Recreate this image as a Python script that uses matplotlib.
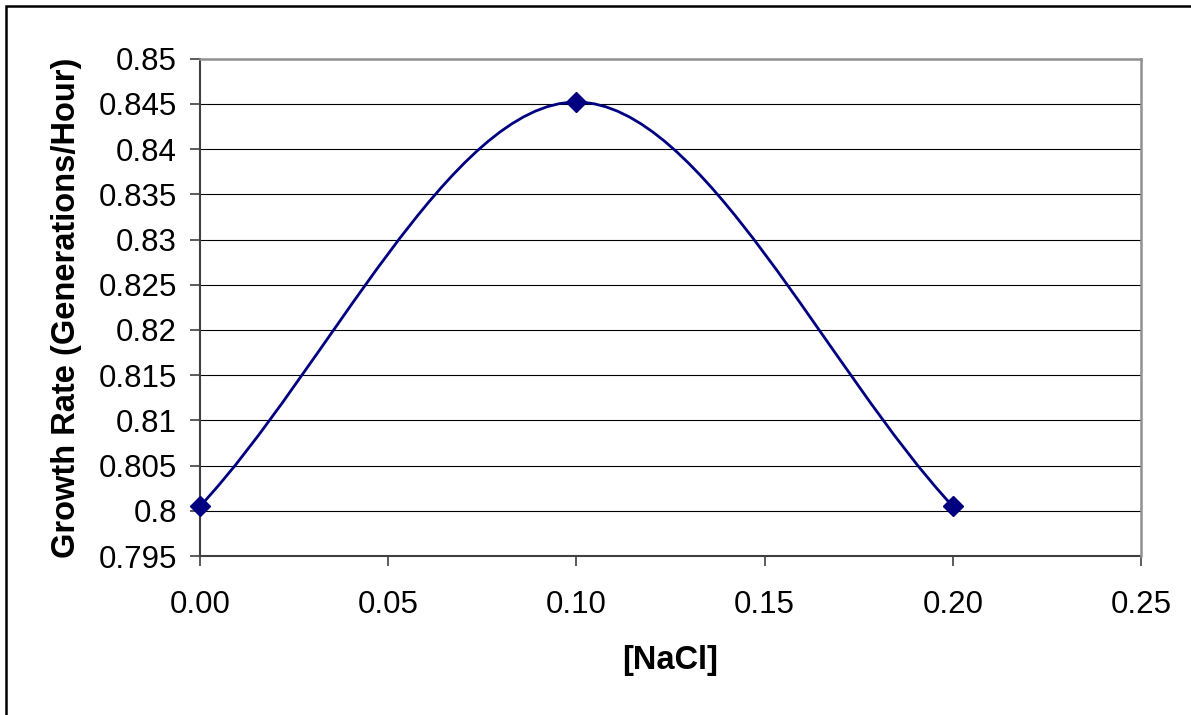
import numpy as np
import matplotlib.pyplot as plt
from matplotlib.path import Path
from matplotlib.patches import PathPatch, Rectangle

plt.rcParams['font.family'] = ['Liberation Sans', 'DejaVu Sans']

# data
nacl = [0.00, 0.10, 0.20]
growth_rate = [0.8005, 0.8452, 0.8005]
xticks = [0.00, 0.05, 0.10, 0.15, 0.20, 0.25]
yticks = [0.795, 0.8, 0.805, 0.81, 0.815, 0.82, 0.825, 0.83, 0.835, 0.84, 0.845, 0.85]

navy = '#000080'

fig = plt.figure(figsize=(11.91, 7.15), dpi=100)
ax = fig.add_axes([200/1191, 1 - 556/715, (1141 - 200)/1191, (556 - 58.7)/715])

# smoothed line like excel: cubic bezier segments between the points
pts = np.column_stack([nacl, growth_rate])
n = len(pts)
verts = [pts[0]]
codes = [Path.MOVETO]
for i in range(n - 1):
    p0 = pts[i]
    p1 = pts[i + 1]
    # tangents: end points use the segment itself, inner points use neighbours
    t0 = (p1 - p0) / 3.0 if i == 0 else (p1 - pts[i - 1]) / 6.0
    t1 = (p1 - p0) / 3.0 if i + 1 == n - 1 else (pts[i + 2] - p0) / 6.0
    verts += [p0 + t0, p1 - t1, p1]
    codes += [Path.CURVE4] * 3
ax.add_patch(PathPatch(Path(verts, codes), facecolor='none', edgecolor=navy, lw=2.0, zorder=3))

ax.plot(nacl, growth_rate, linestyle='none', marker='D', ms=10, color=navy,
        markeredgecolor=navy, zorder=4, clip_on=False)

ax.set_xlim(0, 0.25)
ax.set_ylim(0.795, 0.85)
ax.set_xticks(xticks)
ax.set_xticklabels([f'{v:.2f}' for v in xticks])
ax.set_yticks(yticks)
ax.set_yticklabels([f'{v:g}' for v in yticks])

for y in yticks[1:-1]:
    ax.axhline(y, color='black', lw=0.8, zorder=1)

ax.tick_params(axis='both', labelsize=22.5, length=7.5, width=1.2, color='#404040', direction='out')
ax.tick_params(axis='y', pad=9)
ax.tick_params(axis='x', pad=17)

for side in ['top', 'right']:
    ax.spines[side].set_color('#909090')
    ax.spines[side].set_linewidth(1.8)
for side in ['left', 'bottom']:
    ax.spines[side].set_color('#404040')
    ax.spines[side].set_linewidth(1.5)
    ax.spines[side].set_zorder(2)

ax.set_xlabel('[NaCl]', fontsize=23.5, fontweight='bold', labelpad=18)
ax.set_ylabel('Growth Rate (Generations/Hour)', fontsize=23.5, fontweight='bold', labelpad=12)

# outer chart border (only left and top edges fall inside the picture)
fig.add_artist(Rectangle((6/1191, -0.1), 1.2, 1.1 - 6/715, transform=fig.transFigure,
                         fill=False, edgecolor='black', lw=1.8, clip_on=False))

fig.savefig('out.png', dpi=100)
